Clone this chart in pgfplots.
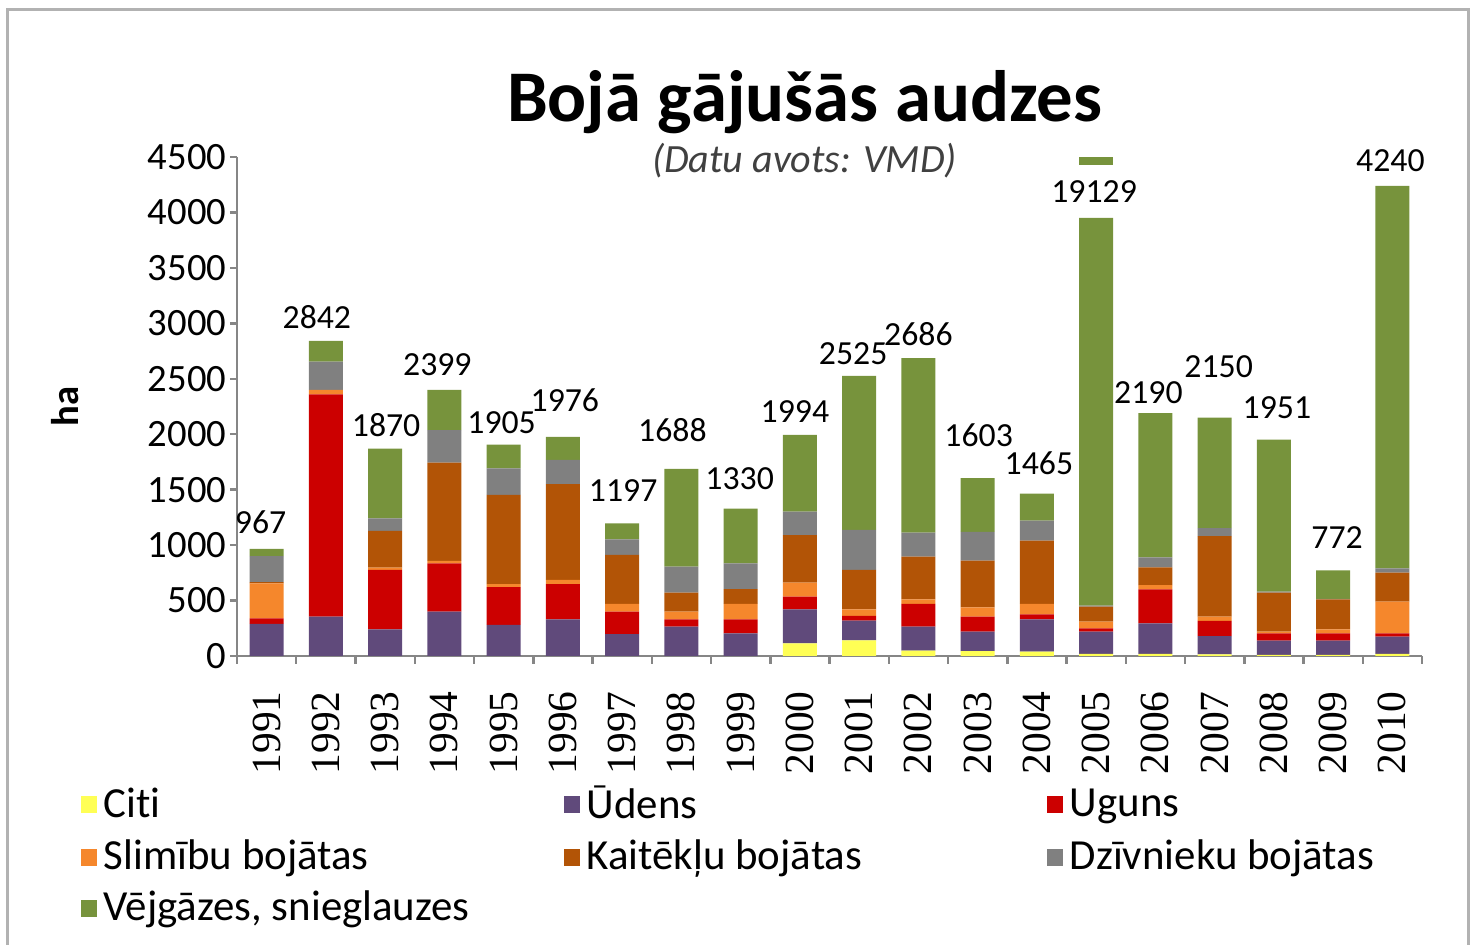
\documentclass[border=0pt]{standalone}
\usepackage{fontspec}
\setmainfont{Carlito}[Ligatures=NoCommon]
\newfontfamily\yearfont{Liberation Serif}
\usepackage{pgfplots}
\usepackage{pgfplotstable}
\pgfplotsset{compat=1.18}

\definecolor{cCiti}{HTML}{FFFF55}
\definecolor{cUdens}{HTML}{604A7B}
\definecolor{cUguns}{HTML}{CC0000}
\definecolor{cSlim}{HTML}{F5872C}
\definecolor{cKait}{HTML}{B25406}
\definecolor{cDziv}{HTML}{808080}
\definecolor{cVej}{HTML}{77933C}
\definecolor{axgray}{HTML}{868686}

% 2005: real Vejgazes value 18674 (total 19129); the axis is broken, drawn up to ~3950
% tot = visible bar height (label position), lab = printed total
\pgfplotstableread{
x citi udens uguns slim kait dziv vej tot lab dx dy
0 0 289 51 316 10 234 67 967 967 -6 1
1 0 355 2005 40 0 255 187 2842 2842 -9 -2
2 0 241 535 21 331 114 628 1870 1870 1 -2
3 0 400 436 21 887 294 361 2399 2399 -7 1
4 0 280 340 27 805 241 212 1905 1905 -2 -3
5 0 331 318 37 863 219 208 1976 1976 2 11
6 0 198 202 69 442 141 145 1197 1197 1 8
7 0 265 66 69 171 235 882 1688 1688 -9 13
8 0 205 126 138 133 234 494 1330 1330 -1 5
9 114 307 114 126 428 213 692 1994 1994 -5 -1
10 140 179 42 60 355 361 1388 2525 2525 -6 -2
11 48 217 204 42 385 216 1574 2686 2686 0 -1
12 45 174 136 84 421 260 483 1603 1603 1 18
13 40 291 45 93 571 180 245 1465 1465 2 5
14 20 199 31 60 135 10 3495 3950 19129 -2 2
15 20 275 306 39 160 90 1300 2190 2190 -7 -4
16 15 165 136 39 727 70 998 2150 2150 4 26
17 10 128 67 14 352 10 1370 1951 1951 3 7
18 10 128 67 36 270 5 256 772 772 4 8
19 20 154 31 285 261 40 3449 4240 4240 -2 0
}\data

\begin{document}
\begin{tikzpicture}
\path[use as bounding box] (-23.7mm,-28.9mm) rectangle (123.3mm,65.6mm);
\draw[gray!60, line width=0.3mm] (-22.9mm,-31mm) -- (-22.9mm,64.6mm) -- (123.1mm,64.6mm) -- (123.1mm,-31mm);

\begin{axis}[
  width=118.5mm, height=49.9mm, scale only axis,
  ybar stacked, bar width=3.4mm,
  xmin=-0.5, xmax=19.5, ymin=0, ymax=4500,
  axis x line=bottom, axis y line=left,
  axis line style={-, draw=axgray, line width=0.25mm},
  tick style={draw=axgray, line width=0.25mm},
  tick align=outside,
  major tick length=0.7mm, minor tick length=0.8mm,
  xtick={0,...,19},
  xticklabels={1991,1992,1993,1994,1995,1996,1997,1998,1999,2000,2001,2002,2003,2004,2005,2006,2007,2008,2009,2010},
  major x tick style={draw=none},
  minor xtick={-0.5,0.5,...,19.5},
  xticklabel style={rotate=90, anchor=east, font=\yearfont\fontsize{11.8}{12}\selectfont},
  xticklabel shift=1.6mm,
  ytick={0,500,...,4500},
  yticklabel style={font=\fontsize{11}{12}\selectfont, inner xsep=0.3mm},
  /pgf/number format/assume math mode=true,
  /pgf/number format/1000 sep={},
  scaled y ticks=false,
  ylabel={\bfseries ha},
  ylabel style={at={(axis description cs:-0.145,0.5)}, anchor=center, font=\fontsize{11}{12}\selectfont},
  title={\bfseries Bojā gājušās audzes},
  title style={at={(axis description cs:0.479,1.028)}, anchor=base, font=\fontsize{20.7}{24}\selectfont},
  legend columns=3,
  legend cell align=left,
  legend style={at={(axis description cs:-0.1325,-0.245)}, anchor=north west, draw=none, fill=none,
    font=\fontsize{12.2}{13}\selectfont, row sep=0.2mm, inner sep=0pt},
  legend image code/.code={\fill[#1] (0mm,-0.85mm) rectangle (1.6mm,0.85mm);},
  clip=false,
]
\addplot[fill=cCiti, draw=none] table[x=x, y=citi] {\data};
\addlegendentry{\makebox[45.3mm][l]{Citi}}
\addplot[fill=cUdens, draw=none] table[x=x, y=udens] {\data};
\addlegendentry{\makebox[45.3mm][l]{Ūdens}}
\addplot[fill=cUguns, draw=none] table[x=x, y=uguns] {\data};
\addlegendentry{\makebox[45.3mm][l]{Uguns}}
\addplot[fill=cSlim, draw=none] table[x=x, y=slim] {\data};
\addlegendentry{\makebox[45.3mm][l]{Slimību bojātas}}
\addplot[fill=cKait, draw=none] table[x=x, y=kait] {\data};
\addlegendentry{\makebox[45.3mm][l]{Kaitēkļu bojātas}}
\addplot[fill=cDziv, draw=none] table[x=x, y=dziv] {\data};
\addlegendentry{\makebox[45.3mm][l]{Dzīvnieku bojātas}}
\addplot[fill=cVej, draw=none] table[x=x, y=vej] {\data};
\addlegendentry{\makebox[45.3mm][l]{Vējgāzes, snieglauzes}}
\node[font=\itshape\fontsize{11.4}{12}\selectfont, text=black!75, anchor=base] at (axis description cs:0.479,0.968) {(Datu avots: VMD)};
\end{axis}

% broken-axis marker for 2005
\begin{axis}[
  width=118.5mm, height=49.9mm, scale only axis, hide axis,
  ybar stacked, bar width=3.4mm,
  xmin=-0.5, xmax=19.5, ymin=0, ymax=4500,
]
\addplot[draw=none, fill=none] coordinates {(14,4428)};
\addplot[fill=cVej, draw=none] coordinates {(14,70)};
\end{axis}

% total labels
\begin{axis}[
  width=118.5mm, height=49.9mm, scale only axis, hide axis,
  xmin=-0.5, xmax=19.5, ymin=0, ymax=4500, clip=false,
]
\addplot[draw=none, mark=none,
  point meta=explicit symbolic,
  visualization depends on={\thisrow{dx} \as \ldx},
  visualization depends on={\thisrow{dy} \as \ldy},
  nodes near coords,
  every node near coord/.append style={font=\fontsize{9.6}{11}\selectfont, text=black, anchor=south,
    inner sep=0pt, xshift={\ldx*0.1mm}, yshift={\ldy*0.1mm+1.3mm}},
  ] table[x=x, y=tot, meta=lab] {\data};
\end{axis}
\end{tikzpicture}
\end{document}
